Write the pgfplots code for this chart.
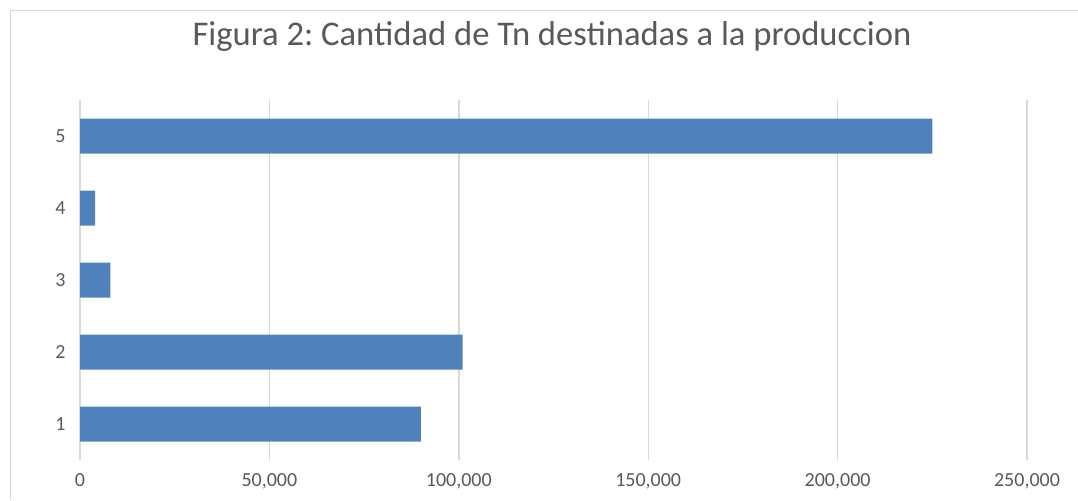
\documentclass[border=0pt]{standalone}
\usepackage{fontspec}
\setmainfont{Carlito}
\usepackage{pgfplots}
\pgfplotsset{compat=1.18}
\definecolor{bar}{HTML}{4F81BD}
\definecolor{grid}{HTML}{D9D9D9}
\definecolor{txt}{HTML}{595959}
\begin{document}
\frenchspacing
\begin{tikzpicture}
\path[use as bounding box] (0pt,0pt) rectangle (539pt,250pt);
\draw[grid, line width=.6pt] (5.4pt,0pt) -- (5.4pt,244.6pt) -- (539pt,244.6pt);
\node[font=\fontsize{17.3}{20}\selectfont, text=txt] at (276pt,232pt) {Figura 2: Cantidad de Tn destinadas a la produccion};
\begin{axis}[
  at={(40pt,20pt)}, anchor=south west, scale only axis,
  width=473.5pt, height=180pt,
  xbar, bar width=17.5pt,
  xmin=0, xmax=250000, xtick={0,50000,...,250000},
  ymin=0.5, ymax=5.5, ytick={1,...,5},
  xmajorgrids, grid style={draw=grid, line width=.7pt},
  axis line style={draw=none}, tick style={draw=none},
  ticklabel style={font=\fontsize{10}{12}\selectfont, text=txt},
  /pgf/number format/assume math mode=true,
  scaled x ticks=false,
  xticklabel={\pgfmathprintnumber[fixed, 1000 sep={,}]{\tick}},
  xticklabel style={yshift=-3pt},
  yticklabel style={xshift=0.5pt},
]
\addplot[fill=bar, draw=none] coordinates {(90000,1) (101000,2) (8000,3) (4000,4) (225000,5)};
\end{axis}
\end{tikzpicture}
\end{document}
